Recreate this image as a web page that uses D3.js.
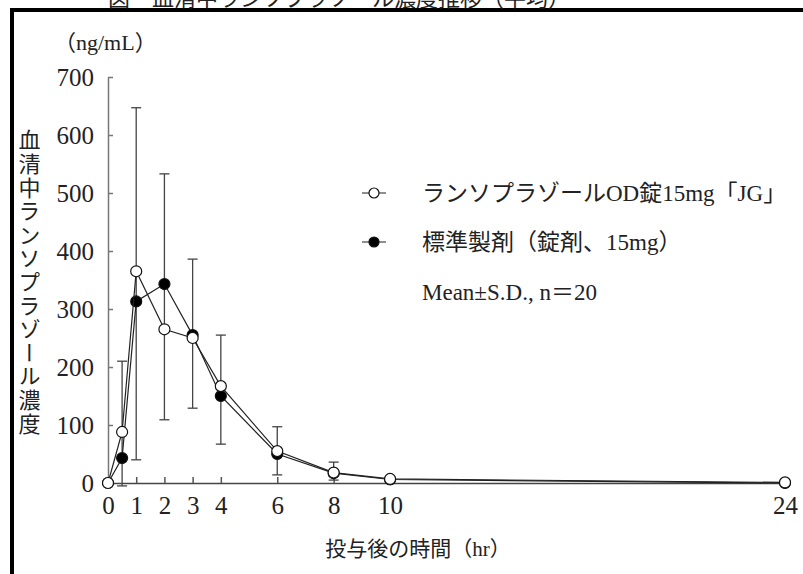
<!DOCTYPE html>
<html>
<head>
<meta charset="utf-8">
<script src="https://cdn.jsdelivr.net/npm/d3@7"></script>
<style>
  html, body { margin: 0; padding: 0; background: #fff; }
  svg { display: block; }
  text { font-family: "Liberation Serif", "Noto Sans CJK JP", serif; fill: #222; }
</style>
</head>
<body>
<div id="chart"></div>
<script>
// time points (hr)
const times = [0, 0.5, 1, 2, 3, 4, 6, 8, 10, 24];
const xTicks = [0, 1, 2, 3, 4, 6, 8, 10, 24];
const yTicks = [0, 100, 200, 300, 400, 500, 600, 700];

// mean serum concentration (ng/mL)
const testMean = [0, 88, 365, 265, 250, 167, 55, 18, 7, 1];   // OD錠
const refMean = [0, 43, 313, 343, 255, 150, 50, 17, 6, 0];    // 標準製剤

// error bar ends (ng/mL)
const errHigh = [null, 210, 647, 533, 386, 255, 97, 36, 9, null];
const errLow = [null, -5, 40, 109, 129, 67, 14, 5, 4, null];

const seriesNames = ['ランソプラゾールOD錠15mg「JG」', '標準製剤（錠剤、15mg）'];

const width = 803, height = 574;
const svg = d3.select('#chart').append('svg')
  .attr('width', width)
  .attr('height', height);

// frame (only top and left edges are inside the picture)
svg.append('rect')
  .attr('x', 12).attr('y', 10)
  .attr('width', 820).attr('height', 600)
  .attr('fill', 'none')
  .attr('stroke', '#000')
  .attr('stroke-width', 4);

// cropped caption above frame
svg.append('text')
  .attr('x', 108).attr('y', 6)
  .attr('font-size', 22)
  .text('図　血清中ランソプラゾール濃度推移（平均）');

const x = d3.scaleLinear().domain([0, 24]).range([108, 785]);
const y = d3.scaleLinear().domain([0, 700]).range([483, 77]);

// y axis
const yAxis = svg.append('g')
  .attr('transform', `translate(${x(0)},0)`)
  .call(d3.axisLeft(y).tickValues(yTicks).tickSizeInner(-5).tickSizeOuter(0).tickPadding(14));
yAxis.select('.domain').attr('stroke', '#777').attr('stroke-width', 1.5);
yAxis.selectAll('.tick line').attr('stroke', '#777').attr('stroke-width', 1.5);
yAxis.selectAll('.tick text')
  .attr('font-size', 25)
  .attr('fill', '#223')
  .style('font-family', '"Liberation Serif", serif');

// x axis
const xAxis = svg.append('g')
  .attr('transform', `translate(0,${y(0)})`)
  .call(d3.axisBottom(x).tickValues(xTicks).tickSizeInner(-6).tickSizeOuter(0).tickPadding(13));
xAxis.select('.domain').attr('stroke', '#444').attr('stroke-width', 1.5);
xAxis.selectAll('.tick line').attr('stroke', '#555').attr('stroke-width', 1.5);
xAxis.selectAll('.tick text')
  .attr('font-size', 25)
  .attr('fill', '#223')
  .style('font-family', '"Liberation Serif", serif');

// unit label
svg.append('text')
  .attr('x', 54).attr('y', 50)
  .attr('font-size', 22)
  .text('（ng/mL）');

// y title, vertical
svg.append('text')
  .attr('x', 27).attr('y', 129)
  .attr('font-size', 22)
  .attr('letter-spacing', 1.6)
  .style('writing-mode', 'vertical-rl')
  .style('text-orientation', 'upright')
  .text('血清中ランソプラゾール濃度');

// x title
svg.append('text')
  .attr('x', 418).attr('y', 556)
  .attr('text-anchor', 'middle')
  .attr('font-size', 21)
  .text('投与後の時間（hr）');

// error bars
const errData = times.map((t, i) => ({ t, hi: errHigh[i], lo: errLow[i] })).filter(d => d.hi !== null);
const eb = svg.append('g').attr('stroke', '#444').attr('stroke-width', 1.3);
eb.selectAll('.err').data(errData).enter().append('line')
  .attr('x1', d => x(d.t)).attr('x2', d => x(d.t))
  .attr('y1', d => y(d.hi)).attr('y2', d => y(d.lo));
eb.selectAll('.caphi').data(errData).enter().append('line')
  .attr('x1', d => x(d.t) - 5).attr('x2', d => x(d.t) + 5)
  .attr('y1', d => y(d.hi)).attr('y2', d => y(d.hi));
eb.selectAll('.caplo').data(errData).enter().append('line')
  .attr('x1', d => x(d.t) - 5).attr('x2', d => x(d.t) + 5)
  .attr('y1', d => y(d.lo)).attr('y2', d => y(d.lo));

const line = d3.line().x(d => x(d[0])).y(d => y(d[1]));

function drawSeries(values, fill) {
  const pts = times.map((t, i) => [t, values[i]]);
  svg.append('path')
    .datum(pts)
    .attr('d', line)
    .attr('fill', 'none')
    .attr('stroke', '#222')
    .attr('stroke-width', 1.2);
  svg.append('g').selectAll('circle').data(pts).enter().append('circle')
    .attr('cx', d => x(d[0]))
    .attr('cy', d => y(d[1]))
    .attr('r', 5.5)
    .attr('fill', fill)
    .attr('stroke', '#111')
    .attr('stroke-width', 1.2);
}

drawSeries(refMean, '#000');
drawSeries(testMean, '#fff');

// legend
const legend = svg.append('g');
const legendRows = [
  { name: seriesNames[0], fill: '#fff', y: 193 },
  { name: seriesNames[1], fill: '#000', y: 242 }
];
legendRows.forEach(r => {
  legend.append('line')
    .attr('x1', 362).attr('x2', 386)
    .attr('y1', r.y).attr('y2', r.y)
    .attr('stroke', '#444').attr('stroke-width', 1.2);
  legend.append('circle')
    .attr('cx', 374).attr('cy', r.y).attr('r', 5)
    .attr('fill', r.fill).attr('stroke', '#111').attr('stroke-width', 1.2);
  legend.append('text')
    .attr('x', 422).attr('y', r.y + 8)
    .attr('font-size', 23)
    .text(r.name);
});
legend.append('text')
  .attr('x', 422).attr('y', 300)
  .attr('font-size', 23)
  .text('Mean±S.D., n＝20');
</script>
</body>
</html>
